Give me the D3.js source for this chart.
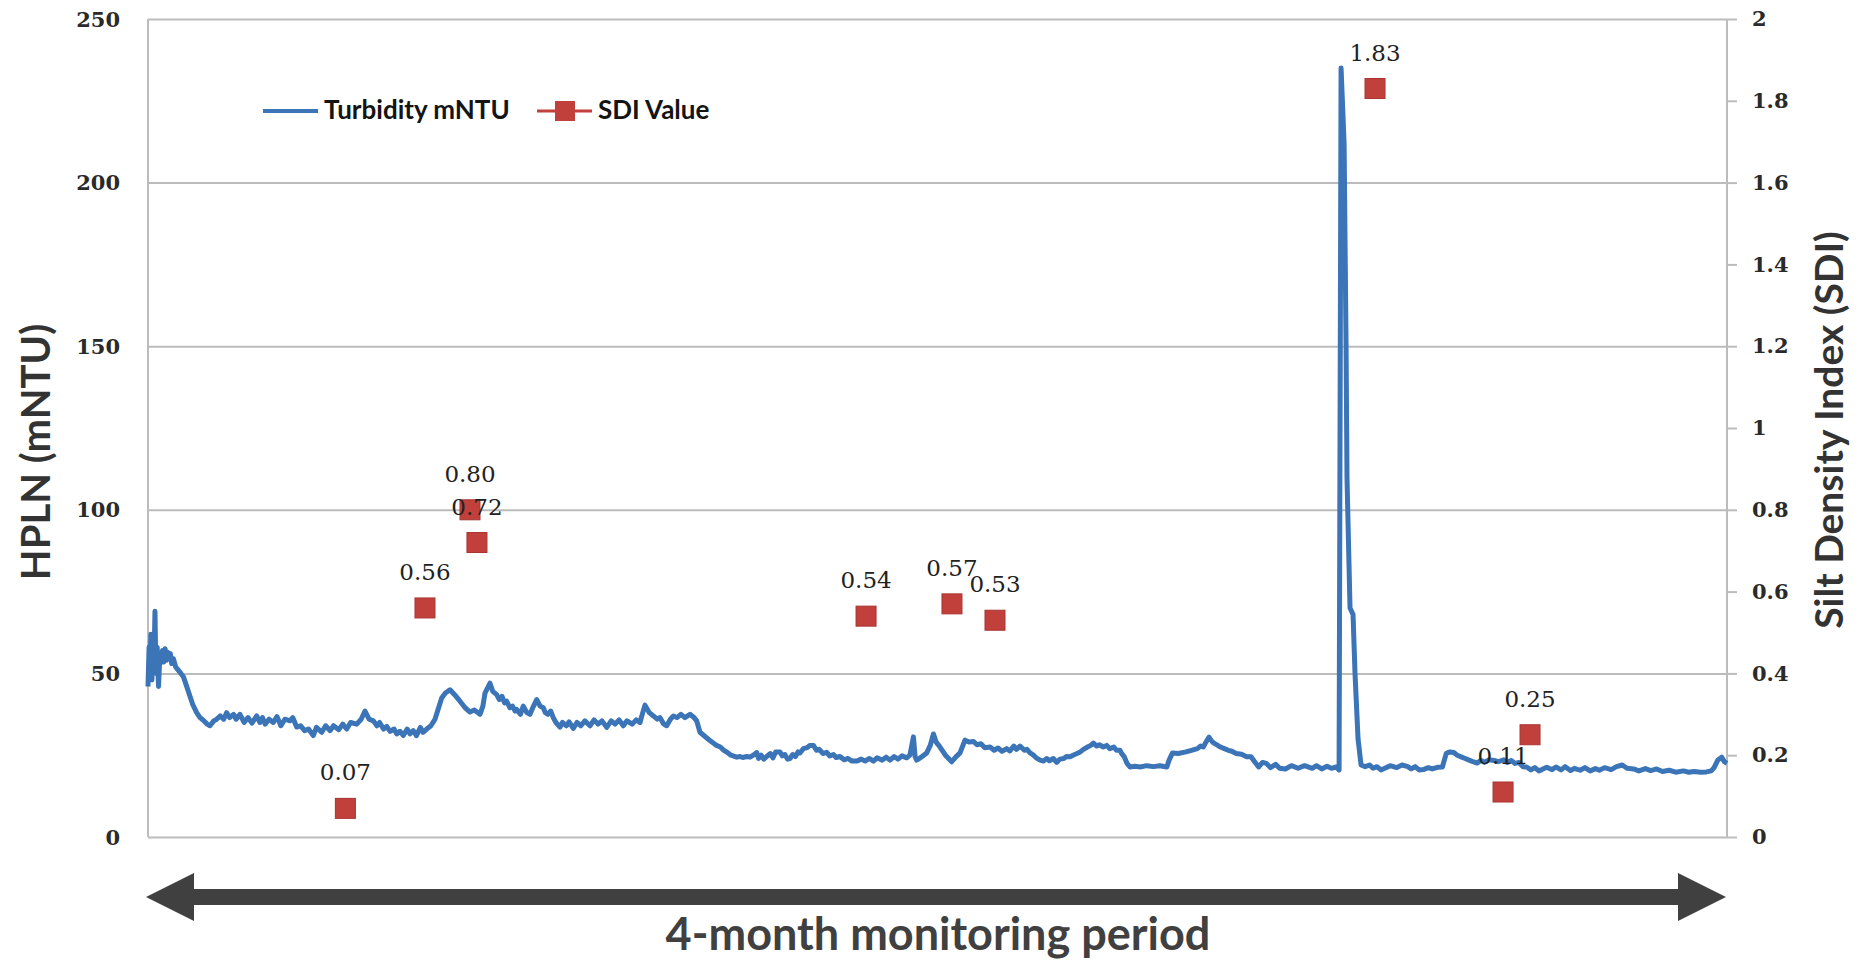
<!DOCTYPE html>
<html>
<head>
<meta charset="utf-8">
<script src="https://cdn.jsdelivr.net/npm/d3@7"></script>
<style>
    body { margin: 0; background: #ffffff; }
    .tick-label { font-family: "DejaVu Serif", serif; font-weight: bold; font-size: 21px; fill: #2a2a2a; }
    .data-label { font-family: "DejaVu Serif", serif; font-size: 23px; fill: #222222; }
    .axis-title { font-family: Lato, "Open Sans", sans-serif; font-weight: bold; fill: #333333; }
    .legend-text { font-family: Lato, "Open Sans", sans-serif; font-weight: bold; font-size: 26px; fill: #141414; }
</style>
</head>
<body>
<script>

// Turbidity trace: [day of the 4-month period, mNTU]
var turbidityStart = [
    [0.0, 46], [0.08, 58], [0.15, 52], [0.22, 62], [0.3, 48], [0.38, 60], [0.45, 52], [0.53, 69],
    [0.6, 50], [0.7, 58], [0.8, 46], [0.91, 56], [1.0, 54], [1.1, 57], [1.2, 53.5], [1.3, 57.5],
    [1.4, 54], [1.5, 56.5], [1.6, 54.5], [1.7, 56], [1.8, 53], [1.93, 54.5], [2.1, 52], [2.3, 51],
    [2.5, 50], [2.69, 49], [2.9, 46.5], [3.19, 43], [3.4, 40.5], [3.7, 38], [3.95, 36.5]
];
var turbidityFirstPlateau = [
    [4.2, 35.7], [4.5, 34.5], [4.71, 34], [5.0, 35.5], [5.22, 36], [5.5, 37], [5.75, 36], [5.98, 38],
    [6.2, 36.5], [6.5, 37.5], [6.7, 36], [6.99, 37.5], [7.3, 35], [7.6, 36.5], [7.9, 34.8], [8.26, 37],
    [8.5, 35], [8.7, 36.5], [8.9, 34.5], [9.2, 36], [9.52, 35], [9.8, 36.8], [10.1, 34], [10.4, 36],
    [10.79, 35.5], [11.0, 36.5], [11.3, 33.6], [11.6, 34], [11.9, 32.5], [12.2, 33], [12.56, 31], [12.8, 33.5],
    [13.2, 32], [13.5, 34], [13.83, 32.5], [14.1, 34], [14.5, 32.8], [14.8, 34.5], [15.1, 33], [15.4, 35],
    [15.86, 34.5], [16.2, 36], [16.49, 38.5], [16.8, 36], [17.13, 35.5], [17.4, 34], [17.6, 35], [17.9, 33],
    [18.14, 33.8], [18.4, 32.3], [18.7, 33], [18.9, 31.5], [19.15, 32.3], [19.4, 31], [19.7, 33], [19.9, 31.5],
    [20.16, 32.5], [20.4, 31], [20.7, 33.5], [20.9, 32], [21.18, 33], [21.5, 34], [21.81, 36]
];
var turbidityBumps = [
    [22.32, 42.5], [22.6, 44], [22.95, 45], [23.3, 43.5], [23.71, 41.5], [24.1, 39.5], [24.47, 38.2], [24.8, 38.8],
    [25.23, 37.5], [25.45, 40], [25.61, 44], [25.8, 45.5], [25.99, 47], [26.2, 44.5], [26.5, 43.5], [26.7, 42],
    [26.9, 43], [27.1, 41], [27.26, 41.5], [27.5, 39.5], [27.7, 40], [27.9, 38.5], [28.02, 39], [28.3, 37.5],
    [28.52, 40], [28.8, 38], [29.03, 37.5], [29.3, 40], [29.54, 42], [29.8, 40], [30.04, 39.5], [30.2, 38],
    [30.4, 37.5], [30.6, 38.5], [30.8, 36.5], [31.0, 35], [31.31, 33.6], [31.5, 35], [31.8, 34], [32.0, 35.2],
    [32.32, 33.2], [32.6, 35], [32.9, 34], [33.2, 35.5], [33.59, 34], [33.9, 35.8], [34.2, 34.5], [34.5, 35.5],
    [34.86, 33.5], [35.2, 35.5], [35.5, 34.5], [35.8, 35.8], [36.12, 34], [36.4, 35.5], [36.8, 34.5], [37.1, 35.8],
    [37.39, 35], [37.6, 38], [37.77, 40.3], [38.1, 38], [38.41, 37], [38.7, 36], [38.9, 36.5], [39.2, 34.5],
    [39.42, 34], [39.7, 36], [39.93, 37], [40.2, 36.5], [40.5, 37.5], [40.8, 36.5], [41.19, 37.5], [41.5, 36.5],
    [41.7, 35.5], [41.95, 32], [42.4, 30.5], [42.7, 29.5], [42.96, 28.7], [43.2, 28], [43.5, 27.5], [43.75, 26.5]
];
var turbidityMiddle = [
    [43.98, 26], [44.3, 25], [44.74, 24.4], [45.0, 24.6], [45.2, 24.3], [45.5, 24.6], [45.75, 24.4], [46.0, 25],
    [46.26, 25.8], [46.4, 24], [46.6, 25], [46.8, 23.8], [47.02, 24.6], [47.3, 25.5], [47.5, 24.2], [47.7, 26],
    [48.03, 26], [48.2, 24.8], [48.4, 25.2], [48.6, 23.8], [48.79, 24], [49.0, 25.2], [49.2, 24.6], [49.4, 26],
    [49.55, 25.7], [49.8, 27], [50.1, 27.3], [50.3, 28], [50.57, 28], [50.8, 26.5], [51.0, 26.8], [51.3, 25.5],
    [51.58, 25.9], [51.8, 24.8], [52.1, 25.2], [52.3, 24.3], [52.59, 24.6], [52.9, 23.6], [53.2, 24], [53.5, 23.2],
    [53.86, 23.2], [54.2, 23.8], [54.5, 23.2], [54.8, 24], [55.13, 23.2], [55.4, 24.2], [55.8, 23.5], [56.1, 24.4],
    [56.39, 23.5], [56.7, 24.6], [57.0, 23.8], [57.3, 24.8], [57.66, 24.2], [57.9, 25], [58.17, 30.6], [58.3, 24.5],
    [58.42, 23.5], [58.8, 24.5], [59.18, 25.7], [59.45, 28], [59.69, 31.5], [59.9, 29], [60.19, 27.5], [60.6, 25],
    [61.08, 23], [61.4, 24.5], [61.71, 25.7], [62.09, 29.6], [62.4, 29], [62.73, 29.2], [63.0, 28.2], [63.3, 28.5],
    [63.6, 27.3], [63.99, 27.5], [64.3, 26.5], [64.6, 27.2], [64.9, 26.2], [65.26, 27], [65.5, 26.3], [65.8, 27.8],
    [66.0, 26.8], [66.27, 27.8], [66.6, 26.5], [66.8, 26.8], [67.03, 25.7], [67.3, 25], [67.5, 24.2], [67.8, 23.5],
    [68.05, 23.2], [68.3, 24], [68.5, 23.3], [68.8, 24], [69.06, 22.8], [69.3, 23.8], [69.6, 24], [69.8, 24.6],
    [70.07, 24.5], [70.3, 25], [70.6, 25.5], [70.85, 26], [71.09, 26.8], [71.4, 27.5], [71.65, 28], [71.85, 28.7],
    [72.1, 27.8], [72.3, 28.2], [72.6, 27.5], [72.86, 28], [73.1, 27], [73.4, 27.5], [73.6, 26.5], [73.87, 26.5],
    [74.0, 25.5], [74.2, 24.5], [74.4, 22.5], [74.63, 21.4], [75.0, 21.6], [75.4, 21.4], [75.9, 21.8], [76.4, 21.5],
    [76.9, 21.8], [77.43, 21.4], [77.6, 23.5], [77.86, 25.7], [78.3, 25.5], [78.88, 26], [79.3, 26.5], [79.75, 27],
    [80.0, 27.8], [80.2, 27.5], [80.4, 29], [80.63, 30.5], [80.9, 29], [81.21, 28.2], [81.5, 27.5], [81.8, 27],
    [82.1, 26.5], [82.37, 26.2], [82.7, 25.5], [83.1, 25.3], [83.5, 24.5], [83.83, 24.5], [84.1, 23], [84.41, 21.4],
    [84.7, 22.8], [84.99, 22.5], [85.3, 21.2], [85.7, 22.2], [86.0, 21], [86.44, 20.8], [86.9, 21.8], [87.4, 21],
    [87.9, 21.8], [88.48, 21], [88.8, 21.8], [89.2, 20.8], [89.6, 21.6], [89.94, 21], [90.3, 21.4], [90.52, 20.5]
];
var turbiditySpike = [
    [90.67, 235], [90.9, 212], [91.05, 150], [91.12, 110], [91.35, 70], [91.58, 68], [91.73, 50], [91.96, 30]
];
var turbidityEnd = [
    [92.19, 22], [92.5, 21.5], [92.84, 22], [93.1, 21], [93.4, 21.5], [93.7, 20.5], [94.0, 21], [94.4, 21.8],
    [94.9, 21.2], [95.3, 22], [95.75, 21.5], [96.0, 20.8], [96.3, 21.5], [96.6, 20.5], [96.92, 20.6], [97.3, 21.2],
    [97.6, 20.8], [98.0, 21.3], [98.37, 21.4], [98.66, 25.5], [98.9, 26], [99.24, 25.8], [99.5, 25], [99.8, 24.5],
    [100.1, 24], [100.4, 23.5], [100.7, 23], [101.0, 22.6], [101.3, 23.4], [101.57, 22.8], [101.9, 23.6], [102.3, 23.4],
    [102.6, 23], [103.03, 23.6], [103.3, 22.8], [103.6, 23.4], [103.9, 22.5], [104.19, 22.8], [104.5, 21.5], [104.77, 21.4],
    [105.1, 20.5], [105.4, 21.2], [105.7, 20.2], [105.93, 20.6], [106.3, 21.3], [106.7, 20.6], [107.0, 21.4], [107.39, 20.5],
    [107.7, 21.5], [108.1, 20.3], [108.4, 21], [108.84, 20.4], [109.2, 21.2], [109.6, 20.2], [110.0, 20.9], [110.3, 20.4],
    [110.7, 21.2], [111.2, 20.6], [111.6, 21.5], [112.04, 22], [112.4, 21], [112.91, 20.8], [113.3, 20.2], [113.8, 20.9],
    [114.2, 20.3], [114.65, 20.8], [115.1, 20], [115.6, 20.4], [116.1, 19.8], [116.69, 20.2], [117.1, 19.8], [117.5, 20],
    [118.0, 19.8], [118.44, 19.9], [118.8, 20.2], [119.02, 21.2], [119.3, 23.5], [119.6, 24.4], [119.8, 23], [120, 22.5]
];

// SDI samples
var sdiDays = [15.0, 21.05, 24.47, 25.0, 54.57, 61.1, 64.37, 93.25, 102.98, 105.03];
var sdiValues = [0.07, 0.56, 0.80, 0.72, 0.54, 0.57, 0.53, 1.83, 0.11, 0.25];
var sdiLabels = ["0.07", "0.56", "0.80", "0.72", "0.54", "0.57", "0.53", "1.83", "0.11", "0.25"];

// Axis ticks
var leftTicks = [0, 50, 100, 150, 200, 250];
var rightTicks = [0, 0.2, 0.4, 0.6, 0.8, 1, 1.2, 1.4, 1.6, 1.8, 2];
var rightTickLabels = ["0", "0.2", "0.4", "0.6", "0.8", "1", "1.2", "1.4", "1.6", "1.8", "2"];

window.onload = function() {
    drawChart();
};

function drawChart() {

    // Size of the figure and plot area
    var svgWidth = 1861;
    var svgHeight = 964;
    var plotLeft = 148;
    var plotRight = 1727;
    var plotTop = 19;
    var plotBottom = 837;

    var blue = "#3b74b7";
    var red = "#c2403b";
    var grid = "#bcbcbc";

    const svg = d3.select("body").append("svg")
        .attr("width", svgWidth)
        .attr("height", svgHeight);

    // Scales
    const xScale = d3.scaleLinear()
        .domain([0, 120])
        .range([plotLeft, plotRight]);

    const yLeft = d3.scaleLinear()
        .domain([0, 250])
        .range([plotBottom, plotTop]);

    const yRight = d3.scaleLinear()
        .domain([0, 2])
        .range([plotBottom, plotTop]);

    // Horizontal gridlines
    const gridG = svg.append("g")
        .attr("transform", `translate(${plotLeft}, 0)`)
        .call(d3.axisLeft(yLeft)
            .tickValues(leftTicks)
            .tickSize(-(plotRight - plotLeft))
            .tickFormat(""));
    gridG.select(".domain").remove();
    gridG.selectAll("line").attr("stroke", grid).attr("stroke-width", 2);

    // Left axis line
    svg.append("line")
        .attr("x1", plotLeft).attr("x2", plotLeft)
        .attr("y1", plotTop).attr("y2", plotBottom)
        .attr("stroke", grid).attr("stroke-width", 2);

    // Left tick labels
    svg.append("g").selectAll("text")
        .data(leftTicks)
        .enter()
        .append("text")
        .attr("class", "tick-label")
        .attr("x", 120)
        .attr("y", d => yLeft(d))
        .attr("dy", "0.36em")
        .attr("text-anchor", "end")
        .text(d => d);

    // Right axis
    const rightG = svg.append("g")
        .attr("transform", `translate(${plotRight}, 0)`)
        .call(d3.axisRight(yRight)
            .tickValues(rightTicks)
            .tickSize(10)
            .tickPadding(15)
            .tickFormat((d, i) => rightTickLabels[i]));
    rightG.select(".domain").attr("stroke", grid).attr("stroke-width", 2)
        .attr("d", `M0,${plotTop}V${plotBottom}`);
    rightG.selectAll("line").attr("stroke", grid).attr("stroke-width", 2);
    rightG.selectAll("text")
        .attr("class", "tick-label")
        .attr("fill", null);

    // Turbidity line
    var turbData = turbidityStart.concat(turbidityFirstPlateau, turbidityBumps,
        turbidityMiddle, turbiditySpike, turbidityEnd);
    var line = d3.line()
        .x(d => xScale(d[0]))
        .y(d => yLeft(d[1]));

    svg.append("path")
        .datum(turbData)
        .attr("d", line)
        .attr("fill", "none")
        .attr("stroke", blue)
        .attr("stroke-width", 5)
        .attr("stroke-linejoin", "round");

    // SDI markers with their labels
    var sdiData = sdiDays.map((d, i) => ({day: d, value: sdiValues[i], label: sdiLabels[i]}));
    var markerSize = 20;

    svg.append("g").selectAll("rect")
        .data(sdiData)
        .enter()
        .append("rect")
        .attr("x", d => xScale(d.day) - markerSize / 2)
        .attr("y", d => yRight(d.value) - markerSize / 2)
        .attr("width", markerSize)
        .attr("height", markerSize)
        .attr("fill", red)
        .attr("stroke", "#a83430")
        .attr("stroke-width", 1);

    svg.append("g").selectAll("text")
        .data(sdiData)
        .enter()
        .append("text")
        .attr("class", "data-label")
        .attr("x", d => xScale(d.day))
        .attr("y", d => yRight(d.value) - 28)
        .attr("text-anchor", "middle")
        .text(d => d.label);

    // Legend
    const legend = svg.append("g");
    legend.append("line")
        .attr("x1", 263).attr("x2", 318)
        .attr("y1", 111).attr("y2", 111)
        .attr("stroke", blue).attr("stroke-width", 4);
    legend.append("text")
        .attr("class", "legend-text")
        .attr("x", 324).attr("y", 119)
        .text("Turbidity mNTU");
    legend.append("line")
        .attr("x1", 537).attr("x2", 592)
        .attr("y1", 111).attr("y2", 111)
        .attr("stroke", red).attr("stroke-width", 3);
    legend.append("rect")
        .attr("x", 555).attr("y", 101)
        .attr("width", markerSize).attr("height", markerSize)
        .attr("fill", red);
    legend.append("text")
        .attr("class", "legend-text")
        .attr("x", 598).attr("y", 119)
        .text("SDI Value");

    // Axis titles
    svg.append("text")
        .attr("class", "axis-title")
        .attr("transform", "translate(50, 452) rotate(-90)")
        .attr("text-anchor", "middle")
        .style("font-size", "40px")
        .text("HPLN (mNTU)");

    svg.append("text")
        .attr("class", "axis-title")
        .attr("transform", "translate(1843, 430) rotate(-90)")
        .attr("text-anchor", "middle")
        .style("font-size", "39px")
        .text("Silt Density Index (SDI)");

    // Double headed arrow for the monitoring period
    var arrowY = 897;
    var arrowLeft = 146;
    var arrowRight = 1726;
    var headLength = 48;
    var headHalf = 24;
    var shaftHalf = 8;
    var arrowPath = [
        [arrowLeft, arrowY],
        [arrowLeft + headLength, arrowY - headHalf],
        [arrowLeft + headLength, arrowY - shaftHalf],
        [arrowRight - headLength, arrowY - shaftHalf],
        [arrowRight - headLength, arrowY - headHalf],
        [arrowRight, arrowY],
        [arrowRight - headLength, arrowY + headHalf],
        [arrowRight - headLength, arrowY + shaftHalf],
        [arrowLeft + headLength, arrowY + shaftHalf],
        [arrowLeft + headLength, arrowY + headHalf]
    ];
    svg.append("path")
        .attr("d", d3.line()(arrowPath) + "Z")
        .attr("fill", "#404040");

    svg.append("text")
        .attr("class", "axis-title")
        .attr("x", 938)
        .attr("y", 950)
        .attr("text-anchor", "middle")
        .style("font-size", "45px")
        .style("fill", "#404040")
        .text("4-month monitoring period");
};

</script>
</body>
</html>
